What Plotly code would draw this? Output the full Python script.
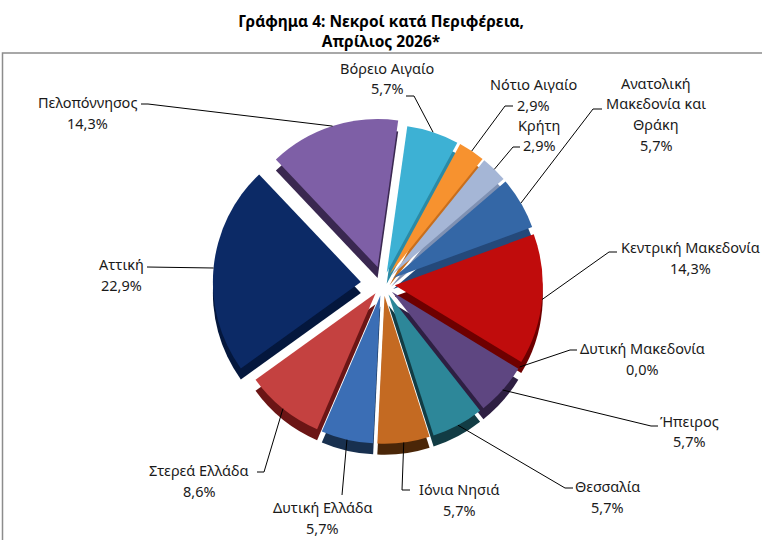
import math
import plotly.graph_objects as go

# Νεκροί κατά Περιφέρεια, Απρίλιος 2026 (%)
regions = ["Βόρειο Αιγαίο", "Νότιο Αιγαίο", "Κρήτη", "Ανατολική<br>Μακεδονία και<br>Θράκη",
           "Κεντρική Μακεδονία", "Δυτική Μακεδονία", "Ήπειρος", "Θεσσαλία",
           "Ιόνια Νησιά", "Δυτική Ελλάδα", "Στερεά Ελλάδα", "Αττική", "Πελοπόννησος"]
shares = [5.7, 2.9, 2.9, 5.7, 14.3, 0.0, 5.7, 5.7, 5.7, 5.7, 8.6, 22.9, 14.3]

colors = ["#3DB1D4", "#F7922F", "#A5B6D6", "#3467A6", "#C00C0C", "#4F6228", "#5E4681",
          "#2D8799", "#C46A22", "#3B6EB5", "#C44140", "#0C2A66", "#7E5FA6"]
side_colors = ["#2A8AA6", "#C86E1C", "#7F91B3", "#24497A", "#6E0000", "#333F18", "#2E1F42",
               "#123C44", "#4A2608", "#18304F", "#6B1515", "#04173D", "#3A2850"]
pulls = [0.08, 0.08, 0.08, 0.08, 0.08, 0.08, 0.08, 0.08, 0.08, 0.08, 0.08, 0.15, 0.12]

W, H = 762, 540
cx, cy = 383, 284
rot = 8
maxpull = max(pulls)
r = 148
half = r * (1 + maxpull)
dom_x = [(cx - half) / W, (cx + half) / W]
dom_y = [1 - (cy + half) / H, 1 - (cy - half) / H]
drop = 11 / H

fig = go.Figure()
# darker copy slightly lower, gives the 3D edge
fig.add_trace(go.Pie(values=shares, labels=regions, sort=False, direction="clockwise",
                     rotation=rot, pull=pulls, textinfo="none", hoverinfo="skip",
                     marker=dict(colors=side_colors, line=dict(width=0)),
                     domain=dict(x=dom_x, y=[dom_y[0] - drop, dom_y[1] - drop])))
fig.add_trace(go.Pie(values=shares, labels=regions, sort=False, direction="clockwise",
                     rotation=rot, pull=pulls, textinfo="none",
                     marker=dict(colors=colors, line=dict(width=0)),
                     domain=dict(x=dom_x, y=dom_y)))

# label placement: text centre x, first line y, leader elbow, stub end
label_pos = [
    (387, 68, (414, 96), (406, 96)),
    (533, 84, (505, 106), (513, 106)),
    (539, 125, (513, 147), (520, 147)),
    (656, 83, (593, 109), (602, 109)),
    (690, 247, (609, 252), (617, 252)),
    (642, 348, (570, 350), (577, 350)),
    (689, 421, (651, 426), (658, 426)),
    (607, 486, (565, 488), (573, 488)),
    (459, 489, (402, 490), (410, 490)),
    (322, 507, (342, 495), None),
    (199, 470, (264, 472), (257, 472)),
    (121, 264, (147, 267), None),
    (87, 102, (148, 104), (141, 104)),
]
line_gap = 20.5

total = sum(shares)
cum = 0
for i, v in enumerate(shares):
    mid = math.radians(rot + 360 * (cum + v / 2) / total)
    cum += v
    dist = r * (1 + pulls[i])
    px = cx + dist * math.sin(mid)
    py = cy - dist * math.cos(mid)
    tx, ty, (ex, ey), stub = label_pos[i]
    pct = f"{v:.1f}".replace(".", ",") + "%"
    lines = regions[i].split("<br>") + [pct]
    for k, txt in enumerate(lines):
        fig.add_annotation(x=tx / W, y=1 - (ty + k * line_gap) / H, xref="paper", yref="paper",
                           text=txt, showarrow=False, xanchor="center", yanchor="middle",
                           font=dict(family="Noto Sans", size=14.5, color="#1a1a1a"))
    path = f"M {px / W},{1 - py / H} L {ex / W},{1 - ey / H}"
    if stub:
        path += f" L {stub[0] / W},{1 - stub[1] / H}"
    fig.add_shape(type="path", path=path, xref="paper", yref="paper",
                  line=dict(color="#000000", width=1))

# frame of the chart area
fig.add_shape(type="rect", xref="paper", yref="paper", x0=2.5 / W, x1=1.02,
              y0=-0.02, y1=1 - 53 / H, line=dict(color="#8c8c8c", width=1.5))

fig.update_layout(
    width=W, height=H,
    margin=dict(l=0, r=0, t=0, b=0),
    paper_bgcolor="white",
    showlegend=False,
    title=dict(text="Γράφημα 4: Νεκροί κατά Περιφέρεια,<br>Απρίλιος 2026*",
               x=0.5, xanchor="center", y=1 - 27 / H, yanchor="middle",
               font=dict(family="Noto Sans", size=15.5, color="#000000", weight="bold")),
)

fig.write_html("out.html", config={"displayModeBar": False},
               post_script="document.body.style.margin='0';document.body.style.overflow='hidden';")
